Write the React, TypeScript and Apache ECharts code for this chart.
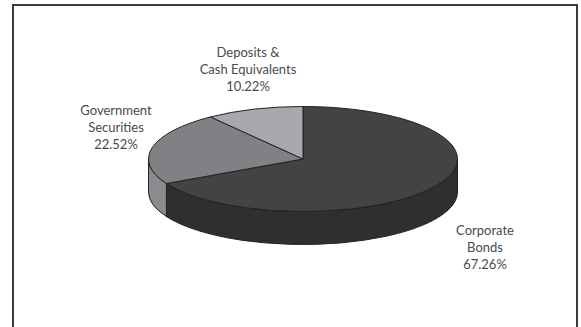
import React, { useEffect, useRef } from "react";
import * as echarts from "echarts";

const categories = [["Corporate", "Bonds"], ["Government", "Securities"], ["Deposits &", "Cash Equivalents"]];
const shares = [67.26, 22.52, 10.22];

const topColors = ["#434344", "#808184", "#a7a9ac"];
const sideColors = ["#302e2f", "#8a8b8e", "#a7a9ac"];
const labelCentres = [[485, 230], [116, 110], [248, 52]];

const CX = 303;
const CY = 159;
const RX = 154.5;
const RY = 52.5;
const DEPTH = 33;
const LINE_HEIGHT = 17;
const total = shares.reduce((a, b) => a + b, 0);

// Angles run clockwise from twelve o'clock, in the ellipse's parametric space.
const rim = (a: number, dy = 0) => [CX + RX * Math.sin(a), CY - RY * Math.cos(a) + dy];
const arc = (from: number, to: number, dy = 0, sweep = 1) => {
  const [x, y] = rim(to, dy);
  const large = Math.abs(to - from) > Math.PI ? 1 : 0;
  return `A${RX} ${RY} 0 ${large} ${sweep} ${x} ${y}`;
};

function renderSlice(params: any, api: any) {
  const i = params.dataIndex;
  const before = shares.slice(0, i).reduce((a, b) => a + b, 0);
  const start = (before / total) * 2 * Math.PI;
  const end = start + (api.value(0) / total) * 2 * Math.PI;
  const outline = { stroke: "#232122", lineWidth: 1 };
  const children: any[] = [];

  // The wall is visible only on the front half of the disc.
  const wallFrom = Math.max(start, Math.PI / 2);
  const wallTo = Math.min(end, (3 * Math.PI) / 2);
  if (wallTo > wallFrom) {
    const [ax, ay] = rim(wallFrom);
    const [bx, by] = rim(wallTo, DEPTH);
    children.push({
      type: "path",
      shape: {
        pathData: `M${ax} ${ay}${arc(wallFrom, wallTo)}L${bx} ${by}${arc(wallTo, wallFrom, DEPTH, 0)}Z`,
      },
      style: { fill: sideColors[i], ...outline },
    });
  }

  const [sx, sy] = rim(start);
  children.push({
    type: "path",
    shape: { pathData: `M${CX} ${CY}L${sx} ${sy}${arc(start, end)}Z` },
    style: { fill: topColors[i], ...outline },
  });

  const [lx, ly] = labelCentres[i];
  [...categories[i], `${shares[i].toFixed(2)}%`].forEach((text, n) => {
    children.push({
      type: "text",
      x: lx,
      y: ly + n * LINE_HEIGHT,
      style: {
        text,
        fill: "#4a4a4c",
        fontFamily: "Lato",
        fontSize: 13,
        align: "center",
        verticalAlign: "middle",
      },
    });
  });

  return { type: "group", children };
}

export default function App() {
  const ref = useRef<HTMLDivElement>(null);

  useEffect(() => {
    const chart = echarts.init(ref.current!, undefined, { renderer: "svg" });
    chart.setOption({
      animation: false,
      backgroundColor: "#ffffff",
      graphic: [
        {
          type: "polyline",
          shape: { points: [[13, 327], [13, 5], [577, 5], [577, 327]] },
          style: { stroke: "#3a3a3c", lineWidth: 2, fill: "none" },
        },
      ],
      series: [
        {
          type: "custom",
          coordinateSystem: "none",
          renderItem: renderSlice,
          data: shares.map((v) => [v]),
          silent: true,
        },
      ],
    });
    return () => chart.dispose();
  }, []);

  return <div ref={ref} style={{ position: "fixed", left: 0, top: 0, width: 581, height: 327 }} />;
}
